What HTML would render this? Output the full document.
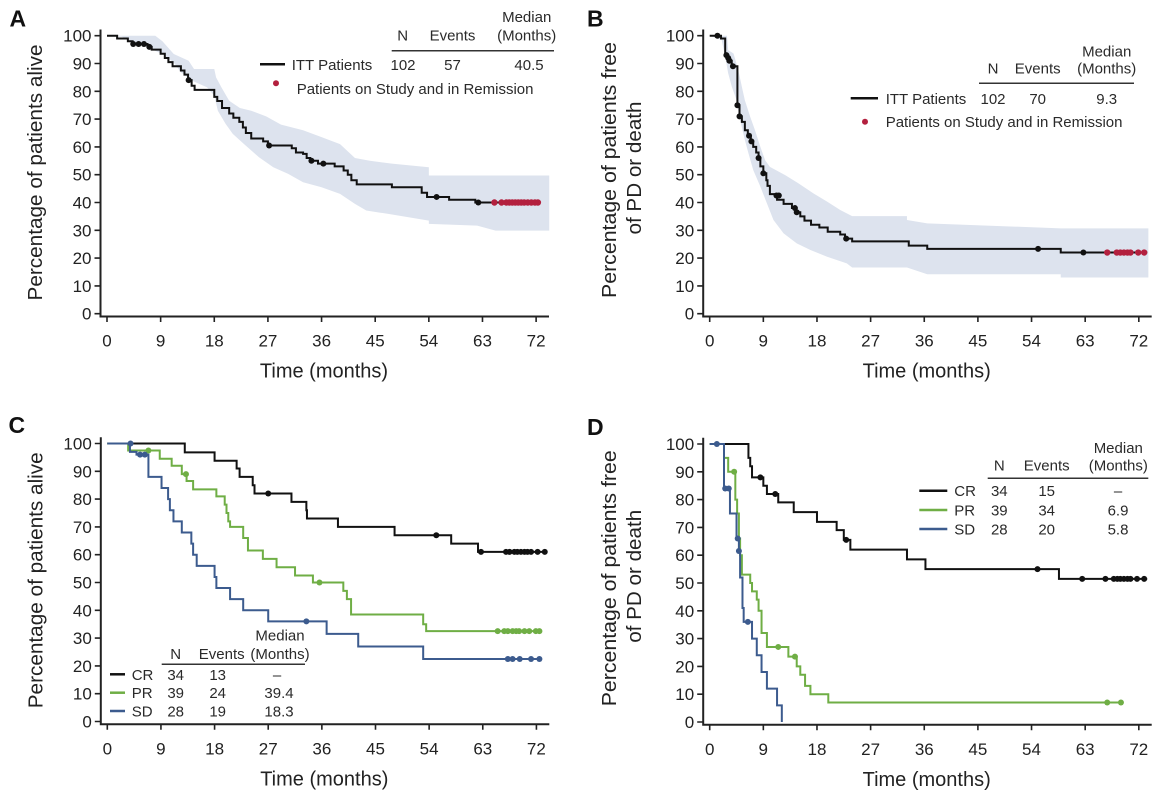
<!DOCTYPE html>
<html><head><meta charset="utf-8">
<style>
html,body{margin:0;padding:0;background:#fff;}
svg{display:block;}
text{font-family:"Liberation Sans",Arial,sans-serif;fill:#222;}
.t{font-size:17px;}
.ttl{font-size:20px;}
.lg{font-size:15px;fill:#2a2a2a;}
.let{font-size:23px;font-weight:bold;fill:#111;}
</style></head>
<body>
<svg id="s" width="1162" height="799" viewBox="0 0 1162 799" xmlns="http://www.w3.org/2000/svg">
<rect width="1162" height="799" fill="#fff"/>

<!-- Panel A -->
<g id="gA" transform="translate(0,0)">
<g id="cA"></g>
<g class="t" text-anchor="end">
<text class="t" x="91.5" y="319.7">0</text><text class="t" x="91.5" y="291.9">10</text><text class="t" x="91.5" y="264.1">20</text><text class="t" x="91.5" y="236.3">30</text><text class="t" x="91.5" y="208.5">40</text><text class="t" x="91.5" y="180.7">50</text><text class="t" x="91.5" y="152.9">60</text><text class="t" x="91.5" y="125.1">70</text><text class="t" x="91.5" y="97.3">80</text><text class="t" x="91.5" y="69.5">90</text><text class="t" x="91.5" y="41.7">100</text>
</g>
<g text-anchor="middle">
<text class="t" x="107" y="346.5">0</text><text class="t" x="160.6" y="346.5">9</text><text class="t" x="214.3" y="346.5">18</text><text class="t" x="267.9" y="346.5">27</text><text class="t" x="321.6" y="346.5">36</text><text class="t" x="375.2" y="346.5">45</text><text class="t" x="428.8" y="346.5">54</text><text class="t" x="482.5" y="346.5">63</text><text class="t" x="536.1" y="346.5">72</text>
<text class="ttl" x="324" y="377.5">Time (months)</text>
<text class="ttl" transform="translate(42,172.5) rotate(-90)" textLength="256" lengthAdjust="spacingAndGlyphs">Percentage of patients alive</text>
</g>
</g>

<!-- Panel B -->
<g id="gB" transform="translate(602.7,0)">
<g id="cB"></g>
<g text-anchor="end">
<text class="t" x="91.5" y="319.7">0</text><text class="t" x="91.5" y="291.9">10</text><text class="t" x="91.5" y="264.1">20</text><text class="t" x="91.5" y="236.3">30</text><text class="t" x="91.5" y="208.5">40</text><text class="t" x="91.5" y="180.7">50</text><text class="t" x="91.5" y="152.9">60</text><text class="t" x="91.5" y="125.1">70</text><text class="t" x="91.5" y="97.3">80</text><text class="t" x="91.5" y="69.5">90</text><text class="t" x="91.5" y="41.7">100</text>
</g>
<g text-anchor="middle">
<text class="t" x="107" y="346.5">0</text><text class="t" x="160.6" y="346.5">9</text><text class="t" x="214.3" y="346.5">18</text><text class="t" x="267.9" y="346.5">27</text><text class="t" x="321.6" y="346.5">36</text><text class="t" x="375.2" y="346.5">45</text><text class="t" x="428.8" y="346.5">54</text><text class="t" x="482.5" y="346.5">63</text><text class="t" x="536.1" y="346.5">72</text>
<text class="ttl" x="324" y="377.5">Time (months)</text>
<text class="ttl" transform="translate(13.5,170) rotate(-90)" textLength="256" lengthAdjust="spacingAndGlyphs">Percentage of patients free</text>
<text class="ttl" transform="translate(38.5,168) rotate(-90)" textLength="133" lengthAdjust="spacingAndGlyphs">of PD or death</text>
</g>
</g>

<!-- Panel C -->
<g id="gC" transform="translate(0.3,407.8)">
<g id="cC"></g>
<g text-anchor="end">
<text class="t" x="91.5" y="319.7">0</text><text class="t" x="91.5" y="291.9">10</text><text class="t" x="91.5" y="264.1">20</text><text class="t" x="91.5" y="236.3">30</text><text class="t" x="91.5" y="208.5">40</text><text class="t" x="91.5" y="180.7">50</text><text class="t" x="91.5" y="152.9">60</text><text class="t" x="91.5" y="125.1">70</text><text class="t" x="91.5" y="97.3">80</text><text class="t" x="91.5" y="69.5">90</text><text class="t" x="91.5" y="41.7">100</text>
</g>
<g text-anchor="middle">
<text class="t" x="107" y="346.5">0</text><text class="t" x="160.6" y="346.5">9</text><text class="t" x="214.3" y="346.5">18</text><text class="t" x="267.9" y="346.5">27</text><text class="t" x="321.6" y="346.5">36</text><text class="t" x="375.2" y="346.5">45</text><text class="t" x="428.8" y="346.5">54</text><text class="t" x="482.5" y="346.5">63</text><text class="t" x="536.1" y="346.5">72</text>
<text class="ttl" x="324" y="377.5">Time (months)</text>
<text class="ttl" transform="translate(42,172.5) rotate(-90)" textLength="256" lengthAdjust="spacingAndGlyphs">Percentage of patients alive</text>
</g>
</g>

<!-- Panel D -->
<g id="gD" transform="translate(602.7,408.3)">
<g id="cD"></g>
<g text-anchor="end">
<text class="t" x="91.5" y="319.7">0</text><text class="t" x="91.5" y="291.9">10</text><text class="t" x="91.5" y="264.1">20</text><text class="t" x="91.5" y="236.3">30</text><text class="t" x="91.5" y="208.5">40</text><text class="t" x="91.5" y="180.7">50</text><text class="t" x="91.5" y="152.9">60</text><text class="t" x="91.5" y="125.1">70</text><text class="t" x="91.5" y="97.3">80</text><text class="t" x="91.5" y="69.5">90</text><text class="t" x="91.5" y="41.7">100</text>
</g>
<g text-anchor="middle">
<text class="t" x="107" y="346.5">0</text><text class="t" x="160.6" y="346.5">9</text><text class="t" x="214.3" y="346.5">18</text><text class="t" x="267.9" y="346.5">27</text><text class="t" x="321.6" y="346.5">36</text><text class="t" x="375.2" y="346.5">45</text><text class="t" x="428.8" y="346.5">54</text><text class="t" x="482.5" y="346.5">63</text><text class="t" x="536.1" y="346.5">72</text>
<text class="ttl" x="324" y="377.5">Time (months)</text>
<text class="ttl" transform="translate(13.5,170) rotate(-90)" textLength="256" lengthAdjust="spacingAndGlyphs">Percentage of patients free</text>
<text class="ttl" transform="translate(38.5,168) rotate(-90)" textLength="133" lengthAdjust="spacingAndGlyphs">of PD or death</text>
</g>
</g>

<!-- Panel letters -->
<text class="let" x="9.5" y="26.5">A</text>
<text class="let" x="587" y="26.5">B</text>
<text class="let" x="8.5" y="433">C</text>
<text class="let" x="587" y="435">D</text>

<!-- Legend A -->
<g text-anchor="middle">
<text class="lg" x="526.7" y="22">Median</text>
<text class="lg" x="526.7" y="40.5">(Months)</text>
<text class="lg" x="402.7" y="40.5">N</text>
<text class="lg" x="452.5" y="40.5">Events</text>
<text class="lg" x="403" y="69.8">102</text>
<text class="lg" x="452.5" y="69.8">57</text>
<text class="lg" x="529" y="69.8">40.5</text>
</g>
<line x1="391.7" y1="50.7" x2="554" y2="50.7" stroke="#333" stroke-width="1.5"/>
<line x1="260" y1="64.3" x2="285" y2="64.3" stroke="#111" stroke-width="2.5"/>
<text class="lg" x="291.7" y="69.8">ITT Patients</text>
<circle cx="276" cy="83.3" r="3" fill="#b3203e"/>
<text class="lg" x="296.7" y="93.8">Patients on Study and in Remission</text>

<!-- Legend B -->
<g text-anchor="middle">
<text class="lg" x="1106.7" y="56.5">Median</text>
<text class="lg" x="1106.7" y="73.5">(Months)</text>
<text class="lg" x="993" y="73.5">N</text>
<text class="lg" x="1037.7" y="73.5">Events</text>
<text class="lg" x="993" y="103.8">102</text>
<text class="lg" x="1037.7" y="103.8">70</text>
<text class="lg" x="1106.7" y="103.8">9.3</text>
</g>
<line x1="979" y1="83.3" x2="1134" y2="83.3" stroke="#333" stroke-width="1.5"/>
<line x1="850.7" y1="98.3" x2="878" y2="98.3" stroke="#111" stroke-width="2.5"/>
<text class="lg" x="885.7" y="103.8">ITT Patients</text>
<circle cx="865" cy="121.7" r="3" fill="#b3203e"/>
<text class="lg" x="885.7" y="127.2">Patients on Study and in Remission</text>

<!-- Legend C -->
<g text-anchor="middle">
<text class="lg" x="280" y="640.5">Median</text>
<text class="lg" x="175.7" y="658.8">N</text>
<text class="lg" x="221.7" y="658.8">Events</text>
<text class="lg" x="280" y="658.8">(Months)</text>
<text class="lg" x="175.7" y="679.8">34</text><text class="lg" x="217.7" y="679.8">13</text><text class="lg" x="277" y="679.8">–</text>
<text class="lg" x="175.7" y="698.2">39</text><text class="lg" x="217.7" y="698.2">24</text><text class="lg" x="279" y="698.2">39.4</text>
<text class="lg" x="175.7" y="716.5">28</text><text class="lg" x="217.7" y="716.5">19</text><text class="lg" x="279" y="716.5">18.3</text>
</g>
<line x1="161.7" y1="664.3" x2="305" y2="664.3" stroke="#333" stroke-width="1.5"/>
<line x1="110" y1="674.3" x2="125" y2="674.3" stroke="#111" stroke-width="2.5"/>
<line x1="110" y1="692.7" x2="125" y2="692.7" stroke="#6fae45" stroke-width="2.5"/>
<line x1="110" y1="711" x2="125" y2="711" stroke="#3c5b8e" stroke-width="2.5"/>
<text class="lg" x="131.7" y="679.8">CR</text>
<text class="lg" x="131.7" y="698.2">PR</text>
<text class="lg" x="131.7" y="716.5">SD</text>

<!-- Legend D -->
<g text-anchor="middle">
<text class="lg" x="1118.3" y="452.8">Median</text>
<text class="lg" x="999.3" y="470.5">N</text>
<text class="lg" x="1046.7" y="470.5">Events</text>
<text class="lg" x="1118.3" y="470.5">(Months)</text>
<text class="lg" x="999.3" y="496.2">34</text><text class="lg" x="1046.7" y="496.2">15</text><text class="lg" x="1118" y="496.2">–</text>
<text class="lg" x="999.3" y="515.5">39</text><text class="lg" x="1046.7" y="515.5">34</text><text class="lg" x="1118" y="515.5">6.9</text>
<text class="lg" x="999.3" y="534.5">28</text><text class="lg" x="1046.7" y="534.5">20</text><text class="lg" x="1118" y="534.5">5.8</text>
</g>
<line x1="987.7" y1="478.3" x2="1148.3" y2="478.3" stroke="#333" stroke-width="1.5"/>
<line x1="919.3" y1="490.7" x2="947.3" y2="490.7" stroke="#111" stroke-width="2.5"/>
<line x1="919.3" y1="510" x2="947.3" y2="510" stroke="#6fae45" stroke-width="2.5"/>
<line x1="919.3" y1="529" x2="947.3" y2="529" stroke="#3c5b8e" stroke-width="2.5"/>
<text class="lg" x="954.3" y="496.2">CR</text>
<text class="lg" x="954.3" y="515.5">PR</text>
<text class="lg" x="954.3" y="534.5">SD</text>
</svg>

<script>
(function(){
const NS='http://www.w3.org/2000/svg';
function el(g,tag,a){const e=document.createElementNS(NS,tag);for(const k in a)e.setAttribute(k,a[k]);g.appendChild(e);return e;}
const K=5.96,X0=107,Y0=313.7,YS=2.78;
const X=m=>(X0+m*K).toFixed(2), Y=v=>(Y0-v*YS).toFixed(2);
const BLK='#111',GRN='#6fae45',BLU='#3c5b8e',RED='#b3203e',BAND='#dde3ee';
function axes(g){
  el(g,'path',{d:'M100.5,29.5V317.5M99.5,316.5H549',stroke:'#222','stroke-width':2,fill:'none'});
  let d='';
  for(let v=0;v<=100;v+=10) d+='M94.5,'+Y(v)+'H100.5';
  for(let i=0;i<=8;i++) d+='M'+X(i*9)+',316.5V322';
  el(g,'path',{d:d,stroke:'#222','stroke-width':1.6,fill:'none'});
}
function step(g,pts,end,color,w){
  let d='M'+X(pts[0][0])+','+Y(pts[0][1]);
  for(let i=1;i<pts.length;i++) d+='H'+X(pts[i][0])+'V'+Y(pts[i][1]);
  d+='H'+X(end);
  el(g,'path',{d:d,stroke:color,'stroke-width':w||2,fill:'none'});
}
function band(g,up,lo){
  const pts=up.concat(lo.slice().reverse());
  el(g,'path',{d:'M'+pts.map(p=>X(p[0])+','+Y(p[1])).join('L')+'Z',fill:BAND,stroke:'none'});
}
function dots(g,list,color,r){list.forEach(p=>el(g,'circle',{cx:X(p[0]),cy:Y(p[1]),r:r||3.2,fill:color}));}

/* ---------- A ---------- */
const gA=document.getElementById('cA');
band(gA,
 [[0,100],[8.1,100],[9.3,98],[11.2,93.4],[13.7,91],[14.6,88],[18,88],[18.3,85],[19.2,81.4],[20.5,76.6],[22.3,74],[24.2,73],[26.7,71],[29.2,68],[32.9,66],[36,63.5],[39.1,61],[41.6,56],[44.1,55],[47.8,54],[54,52.7],[54,49.7],[74.2,49.7]],
 [[0,100],[2.5,99.6],[4.3,97.6],[6.8,95.8],[9.3,93.4],[11.2,90.4],[12.4,86.8],[14.3,83.8],[16.8,81.4],[18,78.4],[18.6,73],[19.9,68.3],[21.1,64.7],[23,61],[25.5,56.3],[27.9,52.7],[30.4,50.3],[32.9,47.3],[36,45.5],[39.1,43.1],[41.6,39.5],[43.5,37.1],[47.2,35.9],[54,33.5],[54,32.3],[62.1,31.7],[65.2,29.9],[74.2,29.9]]);
axes(gA);
step(gA,[[0,100],[1.7,99],[3.5,98],[4.3,97],[6.8,96],[7.5,95],[9.0,93.5],[9.7,92],[10.3,90.5],[11.0,89],[12.4,87.5],[13.0,86],[13.6,84],[14.2,82],[14.7,80.5],[18.0,78],[18.5,76.5],[19.3,74],[20.5,72],[21.2,70.5],[22.2,69],[22.8,67],[23.3,65],[24.2,63],[26.2,62],[27.0,60.5],[31.0,59.5],[31.7,58],[32.9,57.5],[33.5,56],[34.1,55],[35.4,54],[38.2,53],[39.7,51.5],[40.4,50],[41.0,48],[41.9,46.5],[47.8,45.5],[52.8,43.5],[53.7,42],[57.4,41],[61.8,40]],72.3,BLK,2);
dots(gA,[[4.4,97],[5.3,97],[6.2,97],[7.1,96],[13.7,84],[27.2,60.5],[34.3,55],[36.3,54],[55.3,42],[62.3,40]],BLK,3);
dots(gA,[65,66.2,67,67.5,68,68.5,69,69.5,70,70.6,71.2,71.8,72.3].map(m=>[m,40]),RED,3.2);

/* ---------- B ---------- */
const gB=document.getElementById('cB');
band(gB,
 [[0,100],[2.9,100],[3.1,94.8],[4.0,93.6],[4.8,87.6],[5.4,81.6],[5.9,76.8],[6.8,70.8],[7.6,66],[8.5,60],[9.3,55.2],[10.1,52.8],[12.7,49.8],[14.9,46.9],[17.4,43.3],[19.7,40.3],[21.9,37.3],[23.9,35.1],[33.1,35.1],[33.1,33.7],[36.5,32.5],[58.9,30.7],[73.6,30.7]],
 [[0,100],[2.0,98.5],[2.6,92.5],[3.1,86.5],[3.7,81.7],[4.5,76.9],[5.1,69.7],[5.9,62.5],[6.5,57.7],[7.3,51.7],[8.5,45.7],[9.6,39.7],[10.7,33.7],[12.4,28.9],[14.6,25.3],[16.9,22.9],[19.7,20.5],[23.0,18.1],[23.9,16.6],[33.1,16.6],[36.5,14.2],[58.9,14.2],[58.9,13.0],[73.6,13.0]]);
axes(gB);
step(gB,[[0,100],[1.9,99],[2.6,93],[3.1,92],[3.3,91],[3.7,89],[4.65,75],[5.0,71],[5.4,69],[5.9,66],[6.4,64],[6.9,62],[7.3,60],[7.8,58],[8.2,56],[8.5,53],[9.0,50.5],[9.5,48],[9.7,46],[10.1,43],[11.0,42.5],[11.3,41],[12.4,39.5],[13.8,38],[14.5,36.5],[15.2,35],[15.9,33.5],[17.0,32],[18.4,31],[19.8,29.5],[21.9,28.5],[22.7,27],[23.9,26],[33.4,24.5],[36.5,23.3],[58.9,22]],73.4,BLK,2);
dots(gB,[[1.3,100],[2.8,93],[3.1,92],[3.3,91],[3.9,89],[4.65,75],[5.0,71],[6.6,64],[7.0,62],[8.2,56],[9.0,50.5],[11.2,42.5],[11.6,42.5],[14.3,38],[14.6,36.5],[22.9,27],[55.1,23.3],[62.7,22]],BLK,3);
dots(gB,[66.7,68.3,68.9,69.5,70.1,70.6,71.9,72.9].map(m=>[m,22]),RED,3.2);

/* ---------- C ---------- */
const gC=document.getElementById('cC');
axes(gC);
step(gC,[[0,100],[13.0,96.8],[18.0,93.8],[21.7,91],[22.2,88],[24.4,85],[24.7,82],[30.9,79],[33.4,76],[33.5,73],[38.7,70],[48.2,67],[57.7,64],[62.2,61]],73.6,BLK,2);
step(gC,[[0,100],[3.5,97.5],[8.8,94.5],[10.8,92],[12.5,89],[13.3,86.5],[14.4,83.5],[18.3,81],[19.7,78],[20.0,75],[20.3,72],[20.6,70],[22.8,66],[23.6,61.5],[26.1,58.5],[28.4,55.5],[31.5,52.5],[34.5,50],[39.6,47],[40.2,44],[40.9,38.5],[53.0,35],[53.5,32.5]],72.8,GRN,2);
step(gC,[[0,100],[3.8,97],[4.9,96],[6.9,88],[9.1,84],[10.2,80],[10.5,76],[11.1,72],[12.5,68],[14.1,64],[14.4,60],[15.0,56],[18.0,52],[18.3,48],[20.6,44],[22.8,40],[27.0,36],[36.8,31.5],[42.1,27],[53.0,22.5]],72.8,BLU,2);
dots(gC,[[27.0,82],[55.2,67],[62.7,61],[66.9,61],[67.5,61],[68.3,61],[68.8,61],[69.4,61],[70,61],[70.5,61],[71.1,61],[72.2,61],[73.4,61]],BLK,3);
dots(gC,[[6.9,97.5],[13.2,89],[35.6,50],[65.5,32.5],[66.6,32.5],[67.2,32.5],[68.0,32.5],[68.6,32.5],[69.1,32.5],[70,32.5],[70.8,32.5],[71.9,32.5],[72.5,32.5]],GRN,3);
dots(gC,[[3.9,100],[5.5,96],[6.3,96],[33.4,36],[67.2,22.5],[68.0,22.5],[69.2,22.5],[71.1,22.5],[72.5,22.5]],BLU,3);

/* ---------- D ---------- */
const gD=document.getElementById('cD');
axes(gD);
step(gD,[[0,100],[6.5,95],[6.8,92],[7.1,88],[9.0,85],[9.6,82],[11.5,79],[14.1,75.5],[18.0,72],[21.3,69],[22.5,65.5],[23.6,62],[33.1,58.5],[36.2,55],[58.6,51.5]],73.4,BLK,2);
step(gD,[[0,100],[2.4,95],[3.1,90],[4.3,80],[4.6,75],[4.9,66],[5.1,60],[5.4,53],[6.8,50],[7.1,47],[7.9,44],[8.2,40],[8.7,32],[9.6,27],[13.2,23.5],[14.6,20],[15.2,17],[16.0,13],[16.9,10],[19.9,7]],69,GRN,2);
step(gD,[[0,100],[2.4,84],[3.4,75],[4.5,66],[4.9,61.5],[5.1,52],[5.5,41],[5.7,36],[7.1,30],[7.9,24],[8.7,18],[9.6,12],[11.3,6],[12.1,0]],12.1,BLU,2);
dots(gD,[[8.5,88],[11.0,82],[22.9,65.5],[55.0,55],[62.5,51.5],[66.4,51.5],[67.8,51.5],[68.4,51.5],[68.9,51.5],[69.5,51.5],[70.1,51.5],[70.6,51.5],[71.7,51.5],[72.9,51.5]],BLK,3);
dots(gD,[[4.1,90],[11.5,27],[14.3,23.5],[66.7,7],[69,7]],GRN,3);
dots(gD,[[1.2,100],[2.6,84],[3.2,84],[4.7,66],[4.9,61.5],[6.4,36]],BLU,3);
})();
</script>
</body></html>
